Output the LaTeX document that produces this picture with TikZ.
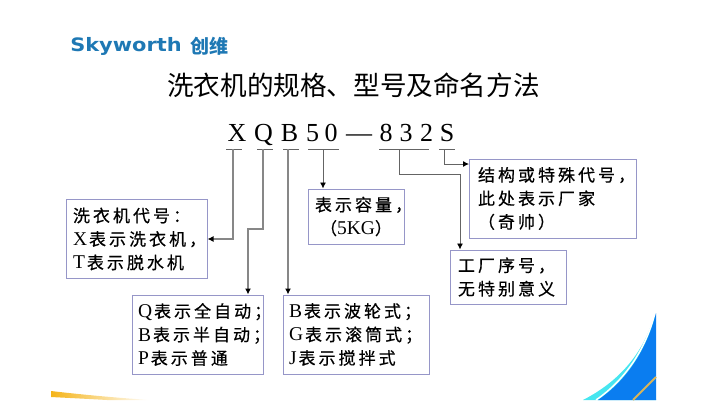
\documentclass[tikz,border=0pt]{standalone}
\usepackage{fontspec}
\setmainfont{Liberation Serif}
\newfontfamily\cjk[LetterSpace=18,Scale=0.87,FakeBold=0.5]{Noto Sans CJK SC}
\newfontfamily\cjktitle{Noto Sans CJK SC}
\newfontfamily\logofont{DejaVu Sans}
\newcommand{\zh}[1]{{\cjk #1}}
\newcommand{\en}[1]{#1\kern2pt}
\usetikzlibrary{arrows.meta}
\definecolor{boxline}{RGB}{150,150,200}
\definecolor{linkgray}{RGB}{100,100,100}
\definecolor{linklight}{RGB}{135,135,135}
\definecolor{logoblue}{RGB}{30,120,180}
\definecolor{swishblue}{RGB}{10,125,240}
\definecolor{swishcyan}{RGB}{70,230,240}
\definecolor{swishgold}{RGB}{215,180,90}
\definecolor{swishyellow}{RGB}{245,180,25}

\begin{document}
\begin{tikzpicture}[x=1pt,y=1pt]
      \tikzstyle{every node}=[inner sep=0pt]
      \tikzstyle{infobox}=[draw=boxline,line width=1pt,align=left,inner xsep=7pt,font=\fontsize{19.5}{23.5}\selectfont]
      \tikzstyle{digit}=[anchor=base,font=\fontsize{26}{26}\selectfont]
      \tikzstyle{bar}=[fill=linkgray,minimum height=1pt]
      \tikzstyle{link}=[draw=linkgray,line width=0.9pt,-{Latex[black,length=6pt,width=6pt]}]
      \tikzstyle{boldlink}=[link,draw=linklight,line width=1.4pt]
      \useasboundingbox (0,0) rectangle (708,400);
      % Corner swooshes
      \shade[left color=swishyellow,right color=white] (51,9) .. controls (85,5) and (120,2) .. (150,0) -- (107,0) .. controls (90,1) and (70,2) .. (51,3) -- cycle;
      \fill[swishcyan] (583,0) .. controls (622,20) and (645,50) .. (655,87) -- (656,0) -- cycle;
      \draw[white,line width=1.5pt] (596,0) .. controls (628,22) and (647,55) .. (655,87);
      \fill[swishblue] (598,0) .. controls (630,22) and (648,55) .. (656,87) -- (656,0) -- cycle;
      \draw[swishgold,line width=2pt] (656,23) .. controls (645,12) .. (633,0);
      % Logo
      \node (logo) [text=logoblue,font=\logofont\bfseries\fontsize{18.5}{20}\selectfont,xscale=1.13,transform shape] at (126,354) {Skyworth};
      \node (logozh) [text=logoblue,font=\cjktitle\bfseries\fontsize{19}{20}\selectfont] at (209.5,354) {创维};
      % Title
      \node (title) [font=\cjktitle\fontsize{26.6}{30}\selectfont] at (353.5,315) {洗衣机的规格、型号及命名方法};
      % Model letters
      \node (cx) [digit] at (237,259) {X};
      \node (cq) [digit] at (263.5,259) {Q};
      \node (cb) [digit] at (289.5,259) {B};
      \node (cf) [digit] at (312.5,259) {5};
      \node (cz) [digit] at (331,259) {0};
      \node (cd) [digit] at (359,259) {—};
      \node (ce) [digit] at (386,259) {8};
      \node (ct) [digit] at (406,259) {3};
      \node (cw) [digit] at (426.5,259) {2};
      \node (cs) [digit] at (447,259) {S};
      % Bars under the letters
      \node (xbar) [bar,minimum width=16pt] at (234,251) {};
      \node (qbar) [bar,minimum width=16pt] at (265,251) {};
      \node (bbar) [bar,minimum width=16pt] at (291,251) {};
      \node (capbar) [bar,minimum width=31pt] at (323.5,251) {};
      \node (facbar) [bar,minimum width=50pt] at (404,251) {};
      \node (sbar) [bar,minimum width=16pt] at (447,251) {};
      % Boxes
      \node (xbox) [infobox,text width=127pt,minimum height=79pt] at (136.5,161) {\zh{洗衣机代号：}\\\en{X}\zh{表示洗衣机，}\\\en{T}\zh{表示脱水机}};
      \node (qbox) [infobox,inner xsep=6pt,text width=119pt,minimum height=79pt] at (197.5,65.5) {\en{Q}\zh{表示全自动；}\\\en{B}\zh{表示半自动；}\\\en{P}\zh{表示普通}};
      \node (bbox) [infobox,inner xsep=6pt,text width=134pt,minimum height=79pt] at (356,65.5) {\en{B}\zh{表示波轮式；}\\\en{G}\zh{表示滚筒式；}\\\en{J}\zh{表示搅拌式}};
      \node (capbox) [infobox,align=center,text width=82pt,minimum height=55pt] at (356,183.5) {\zh{表示容量，}\\\zh{（}5KG\zh{）}};
      \node (sbox) [infobox,inner xsep=9pt,text width=149pt,minimum height=79pt] at (552.5,201.5) {\zh{结构或特殊代号，}\\\zh{此处表示厂家}\\\zh{（奇帅）}};
      \node (facbox) [infobox,inner xsep=8pt,text width=100pt,minimum height=54pt] at (508,123) {\zh{工厂序号，}\\\zh{无特别意义}};
      % Turning points of the connectors
      \coordinate (xtap) at (233,251);
      \coordinate (qtap) at (263,251);
      \coordinate (qturn) at (248,171);
      \coordinate (btap) at (288,251);
      \coordinate (captap) at (323,251);
      \coordinate (factap) at (399,251);
      \coordinate (facturn) at (460,226);
      \coordinate (stap) at (444,251);
      \coordinate (sturn) at (469,236);
      % Connectors
      \draw[boldlink] (xtap) |- (xbox.east);
      \draw[boldlink] (qtap) |- (qturn) -- (qturn |- qbox.north);
      \draw[boldlink] (btap) -- (btap |- bbox.north);
      \draw[link] (captap) -- (captap |- capbox.north);
      \draw[link] (factap) |- (facturn) -- (facturn |- facbox.north);
      \draw[link] (stap) |- (sturn);
\end{tikzpicture}
\end{document}
